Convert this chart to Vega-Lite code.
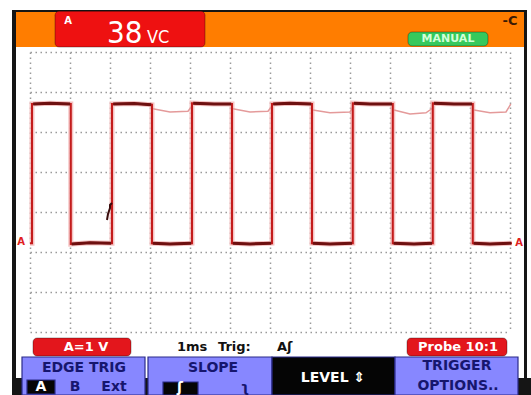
{
  "$schema": "https://vega.github.io/schema/vega-lite/v6.json",
  "width": 480,
  "height": 280,
  "autosize": "none",
  "padding": {"left": 30, "top": 52, "right": 21, "bottom": 63},
  "background": "white",
  "config": {
    "view": {"stroke": null},
    "axis": {"domain": false, "ticks": false, "labels": false, "grid": true, "gridColor": "#9a9a9a", "gridDash": [1.5, 3.5], "gridWidth": 1.5},
    "axisX": {"tickCount": 12},
    "axisY": {"tickCount": 7}
  },
  "datasets": {
    "boxes": [
      {"part": "frame", "group": "plain", "x1": -0.45, "x2": 12.425, "y1": 8.05, "y2": 8.0},
      {"part": "frame", "group": "plain", "x1": -0.45, "x2": -0.35, "y1": 8.05, "y2": -1.575},
      {"part": "frame", "group": "plain", "x1": 12.35, "x2": 12.425, "y1": 8.05, "y2": -1.575},
      {"part": "frame", "group": "plain", "x1": -0.45, "x2": 12.525, "y1": -1.15, "y2": -1.575},
      {"part": "header", "group": "plain", "x1": -0.35, "x2": 12.35, "y1": 8.0, "y2": 7.125},
      {"part": "readout", "group": "round", "x1": 0.625, "x2": 4.375, "y1": 8.02, "y2": 7.125},
      {"part": "mode", "group": "round", "x1": 9.45, "x2": 11.45, "y1": 7.5, "y2": 7.15},
      {"part": "label", "group": "round", "x1": 0.075, "x2": 2.525, "y1": -0.15, "y2": -0.6},
      {"part": "label", "group": "round", "x1": 9.425, "x2": 11.925, "y1": -0.15, "y2": -0.6},
      {"part": "menu", "group": "menu", "x1": -0.2, "x2": 2.875, "y1": -0.625, "y2": -1.575},
      {"part": "menu", "group": "menu", "x1": 2.95, "x2": 6.05, "y1": -0.625, "y2": -1.575},
      {"part": "level", "group": "menu", "x1": 6.05, "x2": 9.125, "y1": -0.625, "y2": -1.575},
      {"part": "menu", "group": "menu", "x1": 9.125, "x2": 12.2, "y1": -0.625, "y2": -1.575},
      {"part": "sel", "group": "menu", "x1": -0.075, "x2": 0.625, "y1": -1.2, "y2": -1.55},
      {"part": "sel", "group": "menu", "x1": 3.325, "x2": 4.2, "y1": -1.25, "y2": -1.575}
    ],
    "trace": [
      {"i": 0, "t": 0, "v": 2.22}, {"i": 1, "t": 0.05, "v": 2.22}, {"i": 2, "t": 0.05, "v": 5.7},
      {"i": 3, "t": 0.5, "v": 5.72}, {"i": 4, "t": 1.02, "v": 5.7}, {"i": 5, "t": 1.02, "v": 2.2},
      {"i": 6, "t": 1.5, "v": 2.23}, {"i": 7, "t": 2.05, "v": 2.22}, {"i": 8, "t": 2.05, "v": 5.7},
      {"i": 9, "t": 2.6, "v": 5.71}, {"i": 10, "t": 3.05, "v": 5.68}, {"i": 11, "t": 3.05, "v": 2.22},
      {"i": 12, "t": 3.5, "v": 2.2}, {"i": 13, "t": 4.05, "v": 2.22}, {"i": 14, "t": 4.05, "v": 5.72},
      {"i": 15, "t": 4.6, "v": 5.7}, {"i": 16, "t": 5.05, "v": 5.7}, {"i": 17, "t": 5.05, "v": 2.22},
      {"i": 18, "t": 5.5, "v": 2.2}, {"i": 19, "t": 6.05, "v": 2.22}, {"i": 20, "t": 6.05, "v": 5.7},
      {"i": 21, "t": 6.5, "v": 5.72}, {"i": 22, "t": 7.05, "v": 5.7}, {"i": 23, "t": 7.05, "v": 2.22},
      {"i": 24, "t": 7.5, "v": 2.2}, {"i": 25, "t": 8.07, "v": 2.22}, {"i": 26, "t": 8.07, "v": 5.72},
      {"i": 27, "t": 8.5, "v": 5.7}, {"i": 28, "t": 9.07, "v": 5.7}, {"i": 29, "t": 9.07, "v": 2.22},
      {"i": 30, "t": 9.6, "v": 2.2}, {"i": 31, "t": 10.07, "v": 2.22}, {"i": 32, "t": 10.07, "v": 5.72},
      {"i": 33, "t": 10.6, "v": 5.7}, {"i": 34, "t": 11.07, "v": 5.7}, {"i": 35, "t": 11.07, "v": 2.22},
      {"i": 36, "t": 11.5, "v": 2.2}, {"i": 37, "t": 12.05, "v": 2.22}
    ],
    "flats": [
      {"seg": "h1", "t": 0.08, "v": 5.7}, {"seg": "h1", "t": 0.5, "v": 5.72}, {"seg": "h1", "t": 1.0, "v": 5.7},
      {"seg": "l1", "t": 1.04, "v": 2.2}, {"seg": "l1", "t": 1.5, "v": 2.23}, {"seg": "l1", "t": 2.03, "v": 2.22},
      {"seg": "h2", "t": 2.08, "v": 5.7}, {"seg": "h2", "t": 2.6, "v": 5.71}, {"seg": "h2", "t": 3.03, "v": 5.68},
      {"seg": "l2", "t": 3.07, "v": 2.22}, {"seg": "l2", "t": 3.5, "v": 2.2}, {"seg": "l2", "t": 4.03, "v": 2.22},
      {"seg": "h3", "t": 4.08, "v": 5.72}, {"seg": "h3", "t": 4.6, "v": 5.7}, {"seg": "h3", "t": 5.03, "v": 5.7},
      {"seg": "l3", "t": 5.07, "v": 2.22}, {"seg": "l3", "t": 5.5, "v": 2.2}, {"seg": "l3", "t": 6.03, "v": 2.22},
      {"seg": "h4", "t": 6.08, "v": 5.7}, {"seg": "h4", "t": 6.5, "v": 5.72}, {"seg": "h4", "t": 7.03, "v": 5.7},
      {"seg": "l4", "t": 7.07, "v": 2.22}, {"seg": "l4", "t": 7.5, "v": 2.2}, {"seg": "l4", "t": 8.05, "v": 2.22},
      {"seg": "h5", "t": 8.1, "v": 5.72}, {"seg": "h5", "t": 8.5, "v": 5.7}, {"seg": "h5", "t": 9.05, "v": 5.7},
      {"seg": "l5", "t": 9.09, "v": 2.22}, {"seg": "l5", "t": 9.6, "v": 2.2}, {"seg": "l5", "t": 10.05, "v": 2.22},
      {"seg": "h6", "t": 10.1, "v": 5.72}, {"seg": "h6", "t": 10.6, "v": 5.7}, {"seg": "h6", "t": 11.05, "v": 5.7},
      {"seg": "l6", "t": 11.09, "v": 2.22}, {"seg": "l6", "t": 11.5, "v": 2.2}, {"seg": "l6", "t": 12.03, "v": 2.22}
    ],
    "ghost": [
      {"seg": "g1", "t": 3.07, "v": 5.58}, {"seg": "g1", "t": 3.5, "v": 5.5}, {"seg": "g1", "t": 3.95, "v": 5.52}, {"seg": "g1", "t": 4.05, "v": 5.65},
      {"seg": "g2", "t": 5.07, "v": 5.58}, {"seg": "g2", "t": 5.5, "v": 5.5}, {"seg": "g2", "t": 5.95, "v": 5.52}, {"seg": "g2", "t": 6.05, "v": 5.65},
      {"seg": "g3", "t": 7.07, "v": 5.55}, {"seg": "g3", "t": 7.5, "v": 5.48}, {"seg": "g3", "t": 8.0, "v": 5.5}, {"seg": "g3", "t": 8.07, "v": 5.62},
      {"seg": "g4", "t": 9.1, "v": 5.55}, {"seg": "g4", "t": 9.5, "v": 5.45}, {"seg": "g4", "t": 9.9, "v": 5.48}, {"seg": "g4", "t": 10.07, "v": 5.6},
      {"seg": "g5", "t": 11.1, "v": 5.55}, {"seg": "g5", "t": 11.5, "v": 5.48}, {"seg": "g5", "t": 11.9, "v": 5.5}, {"seg": "g5", "t": 12.02, "v": 5.7}
    ],
    "glitch": [
      {"t": 1.925, "v": 2.8}, {"t": 1.95, "v": 2.95}, {"t": 2.0, "v": 3.1}, {"t": 2.0, "v": 3.175}, {"t": 2.05, "v": 3.225}
    ],
    "texts": [
      {"role": "tag", "label": "A", "t": 0.95, "v": 7.775},
      {"role": "big", "label": "38", "t": 1.925, "v": 7.225},
      {"role": "unit", "label": "VC", "t": 2.925, "v": 7.225},
      {"role": "mode", "label": "MANUAL", "t": 10.45, "v": 7.325},
      {"role": "icon", "label": "-C", "t": 12.0, "v": 7.775},
      {"role": "marker", "label": "A", "t": -0.225, "v": 2.25},
      {"role": "marker", "label": "A", "t": 12.225, "v": 2.225},
      {"role": "label", "label": "A=1 V", "t": 1.4, "v": -0.375},
      {"role": "label", "label": "Probe 10:1", "t": 10.7, "v": -0.375},
      {"role": "status", "label": "1ms", "t": 3.675, "v": -0.375},
      {"role": "status", "label": "Trig:", "t": 4.7, "v": -0.375},
      {"role": "status", "label": "Aʃ", "t": 6.175, "v": -0.375},
      {"role": "menu", "label": "EDGE TRIG", "t": 1.35, "v": -0.9},
      {"role": "menu", "label": "B", "t": 1.125, "v": -1.375},
      {"role": "menu", "label": "Ext", "t": 2.1, "v": -1.375},
      {"role": "menu", "label": "SLOPE", "t": 4.575, "v": -0.9},
      {"role": "menu", "label": "ʅ", "t": 5.375, "v": -1.4},
      {"role": "menu", "label": "TRIGGER", "t": 10.675, "v": -0.85},
      {"role": "menu", "label": "OPTIONS..", "t": 10.7, "v": -1.35},
      {"role": "sel", "label": "A", "t": 0.275, "v": -1.375},
      {"role": "sel", "label": "ʃ", "t": 3.75, "v": -1.4},
      {"role": "sel", "label": "LEVEL ⇕", "t": 7.575, "v": -1.15}
    ]
  },
  "layer": [
    {
      "data": {"name": "boxes"},
      "transform": [{"filter": "datum.group === 'plain'"}],
      "mark": {"type": "rect"},
      "encoding": {
        "x": {"field": "x1", "type": "quantitative", "title": null, "scale": {"domain": [0, 12], "nice": false, "zero": false}},
        "x2": {"field": "x2"},
        "y": {"field": "y1", "type": "quantitative", "title": null, "scale": {"domain": [0, 7], "nice": false, "zero": false}},
        "y2": {"field": "y2"},
        "color": {"field": "part", "type": "nominal", "legend": null, "scale": {"domain": ["frame","header","readout","mode","label","menu","level","sel"], "range": ["#151515","#ff7d00","#ee1111","#36c95c","#e3161c","#8787ff","#050505","#050505"]}}
      }
    },
    {
      "data": {"name": "boxes"},
      "transform": [{"filter": "datum.group === 'round'"}],
      "mark": {"type": "rect", "cornerRadius": 4, "stroke": "#00000055", "strokeWidth": 1},
      "encoding": {
        "x": {"field": "x1", "type": "quantitative", "title": null},
        "x2": {"field": "x2"},
        "y": {"field": "y1", "type": "quantitative", "title": null},
        "y2": {"field": "y2"},
        "color": {"field": "part", "type": "nominal", "legend": null}
      }
    },
    {
      "data": {"name": "boxes"},
      "transform": [{"filter": "datum.group === 'menu'"}],
      "mark": {"type": "rect", "stroke": "#2b2b8a", "strokeWidth": 1.2},
      "encoding": {
        "x": {"field": "x1", "type": "quantitative", "title": null},
        "x2": {"field": "x2"},
        "y": {"field": "y1", "type": "quantitative", "title": null},
        "y2": {"field": "y2"},
        "color": {"field": "part", "type": "nominal", "legend": null}
      }
    },
    {
      "data": {"name": "trace"},
      "mark": {"type": "line", "color": "#f2b4b4", "strokeWidth": 5, "opacity": 0.8},
      "encoding": {
        "x": {"field": "t", "type": "quantitative", "title": null},
        "y": {"field": "v", "type": "quantitative", "title": null},
        "order": {"field": "i", "type": "quantitative"}
      }
    },
    {
      "data": {"name": "ghost"},
      "mark": {"type": "line", "color": "#e49a9a", "strokeWidth": 1.5},
      "encoding": {
        "x": {"field": "t", "type": "quantitative", "title": null},
        "y": {"field": "v", "type": "quantitative", "title": null},
        "detail": {"field": "seg", "type": "nominal"}
      }
    },
    {
      "data": {"name": "trace"},
      "mark": {"type": "line", "color": "#c41c1c", "strokeWidth": 2},
      "encoding": {
        "x": {"field": "t", "type": "quantitative", "title": null},
        "y": {"field": "v", "type": "quantitative", "title": null},
        "order": {"field": "i", "type": "quantitative"}
      }
    },
    {
      "data": {"name": "flats"},
      "mark": {"type": "line", "color": "#6e1010", "strokeWidth": 3},
      "encoding": {
        "x": {"field": "t", "type": "quantitative", "title": null},
        "y": {"field": "v", "type": "quantitative", "title": null},
        "detail": {"field": "seg", "type": "nominal"}
      }
    },
    {
      "data": {"name": "glitch"},
      "mark": {"type": "line", "color": "#3a0c0c", "strokeWidth": 2},
      "encoding": {
        "x": {"field": "t", "type": "quantitative", "title": null},
        "y": {"field": "v", "type": "quantitative", "title": null},
        "order": {"field": "v", "type": "quantitative"}
      }
    },
    {
      "data": {"name": "texts"},
      "transform": [{"filter": "datum.role === 'tag'"}],
      "mark": {"type": "text", "color": "white", "font": "DejaVu Sans", "fontWeight": "bold", "fontSize": 10, "align": "center", "baseline": "middle"},
      "encoding": {"x": {"field": "t", "type": "quantitative", "title": null}, "y": {"field": "v", "type": "quantitative", "title": null}, "text": {"field": "label"}}
    },
    {
      "data": {"name": "texts"},
      "transform": [{"filter": "datum.role === 'big'"}],
      "mark": {"type": "text", "color": "white", "font": "Liberation Sans Narrow, DejaVu Sans Condensed, Liberation Sans", "fontSize": 31, "align": "left", "baseline": "alphabetic"},
      "encoding": {"x": {"field": "t", "type": "quantitative", "title": null}, "y": {"field": "v", "type": "quantitative", "title": null}, "text": {"field": "label"}}
    },
    {
      "data": {"name": "texts"},
      "transform": [{"filter": "datum.role === 'unit'"}],
      "mark": {"type": "text", "color": "white", "font": "Liberation Sans Narrow, DejaVu Sans Condensed, Liberation Sans", "fontSize": 18, "align": "left", "baseline": "alphabetic"},
      "encoding": {"x": {"field": "t", "type": "quantitative", "title": null}, "y": {"field": "v", "type": "quantitative", "title": null}, "text": {"field": "label"}}
    },
    {
      "data": {"name": "texts"},
      "transform": [{"filter": "datum.role === 'mode'"}],
      "mark": {"type": "text", "color": "#d2ffd8", "font": "DejaVu Sans", "fontWeight": "bold", "fontSize": 11, "align": "center", "baseline": "middle"},
      "encoding": {"x": {"field": "t", "type": "quantitative", "title": null}, "y": {"field": "v", "type": "quantitative", "title": null}, "text": {"field": "label"}}
    },
    {
      "data": {"name": "texts"},
      "transform": [{"filter": "datum.role === 'icon'"}],
      "mark": {"type": "text", "color": "#3a1a05", "font": "DejaVu Sans", "fontWeight": "bold", "fontSize": 13, "align": "center", "baseline": "middle"},
      "encoding": {"x": {"field": "t", "type": "quantitative", "title": null}, "y": {"field": "v", "type": "quantitative", "title": null}, "text": {"field": "label"}}
    },
    {
      "data": {"name": "texts"},
      "transform": [{"filter": "datum.role === 'marker'"}],
      "mark": {"type": "text", "color": "#e02020", "font": "DejaVu Sans", "fontWeight": "bold", "fontSize": 10, "align": "center", "baseline": "middle"},
      "encoding": {"x": {"field": "t", "type": "quantitative", "title": null}, "y": {"field": "v", "type": "quantitative", "title": null}, "text": {"field": "label"}}
    },
    {
      "data": {"name": "texts"},
      "transform": [{"filter": "datum.role === 'label'"}],
      "mark": {"type": "text", "color": "white", "font": "DejaVu Sans", "fontWeight": "bold", "fontSize": 13, "align": "center", "baseline": "middle"},
      "encoding": {"x": {"field": "t", "type": "quantitative", "title": null}, "y": {"field": "v", "type": "quantitative", "title": null}, "text": {"field": "label"}}
    },
    {
      "data": {"name": "texts"},
      "transform": [{"filter": "datum.role === 'status'"}],
      "mark": {"type": "text", "color": "#111111", "font": "DejaVu Sans", "fontWeight": "bold", "fontSize": 13, "align": "left", "baseline": "middle"},
      "encoding": {"x": {"field": "t", "type": "quantitative", "title": null}, "y": {"field": "v", "type": "quantitative", "title": null}, "text": {"field": "label"}}
    },
    {
      "data": {"name": "texts"},
      "transform": [{"filter": "datum.role === 'menu'"}],
      "mark": {"type": "text", "color": "#16166e", "font": "DejaVu Sans", "fontWeight": "bold", "fontSize": 14, "align": "center", "baseline": "middle"},
      "encoding": {"x": {"field": "t", "type": "quantitative", "title": null}, "y": {"field": "v", "type": "quantitative", "title": null}, "text": {"field": "label"}}
    },
    {
      "data": {"name": "texts"},
      "transform": [{"filter": "datum.role === 'sel'"}],
      "mark": {"type": "text", "color": "white", "font": "DejaVu Sans", "fontWeight": "bold", "fontSize": 14, "align": "center", "baseline": "middle"},
      "encoding": {"x": {"field": "t", "type": "quantitative", "title": null}, "y": {"field": "v", "type": "quantitative", "title": null}, "text": {"field": "label"}}
    }
  ]
}
